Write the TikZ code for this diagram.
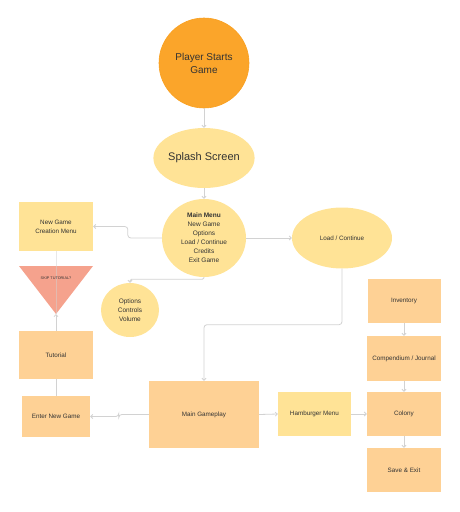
\documentclass[tikz,border=0pt]{standalone}
\usepackage{fontspec}
\setmainfont{Liberation Sans}
\usetikzlibrary{arrows.meta,shapes.geometric}
\definecolor{orangeC}{HTML}{FBA52A}
\definecolor{orangeB}{HTML}{F9A020}
\definecolor{yellowC}{HTML}{FFE396}
\definecolor{peachC}{HTML}{FED195}
\definecolor{salmonC}{HTML}{F5A28D}
\definecolor{lineC}{HTML}{D2D2D2}
\definecolor{textC}{HTML}{333333}
\begin{document}
\begin{tikzpicture}[x=1pt,y=-1pt,
  every node/.style={text=textC},
  box/.style={rectangle, fill=peachC, draw=none, inner sep=0pt, font=\fontsize{6.3}{8}\selectfont},
  ybox/.style={box, fill=yellowC},
  yell/.style={ellipse, fill=yellowC, draw=none, inner sep=0pt, align=center},
  conn/.style={draw=lineC, line width=0.8pt, rounded corners=3pt, -{Straight Barb[length=2pt,width=4pt]}},
  plain/.style={draw=lineC, line width=0.8pt}
]
\useasboundingbox (0,0) rectangle (460,512);

% nodes
\node[circle, fill=orangeC, draw=orangeB, line width=0.6pt, minimum size=90pt, inner sep=0pt, align=center, font=\fontsize{10}{13}\selectfont] (start) at (204,63) {Player Starts\\Game};
\node[yell, minimum width=100pt, minimum height=60pt, font=\fontsize{11}{13}\selectfont] (splash) at (204,158) {Splash Screen};
\node[yell, minimum width=84pt, minimum height=78pt, font=\fontsize{6.5}{9}\selectfont] (menu) at (204,238) {\textbf{Main Menu}\\New Game\\Options\\Load / Continue\\Credits\\Exit Game};
\node[yell, minimum width=100pt, minimum height=61pt, font=\fontsize{6.3}{8}\selectfont] (lc) at (342,238) {Load / Continue};
\node[yell, minimum width=58pt, minimum height=54pt, font=\fontsize{6.5}{9}\selectfont] (opt) at (130,310) {Options\\Controls\\Volume};

\node[ybox, minimum width=74pt, minimum height=49pt, align=center, font=\fontsize{6.3}{9}\selectfont] (ngc) at (56,226.5) {New Game\\Creation Menu};
\fill[salmonC] (19,266) coordinate (tril) -- (93,266) coordinate (trir) -- (56,314) coordinate (triapex) -- cycle;
\node[box, minimum width=74pt, minimum height=48pt] (tut) at (56,355) {Tutorial};
\node[box, minimum width=68pt, minimum height=41pt] (eng) at (56,416.5) {Enter New Game};
\node[box, minimum width=110pt, minimum height=67pt] (mg) at (204,414.5) {Main Gameplay};
\node[ybox, minimum width=73pt, minimum height=44pt] (ham) at (314.5,414) {Hamburger Menu};
\node[box, minimum width=73pt, minimum height=44pt] (inv) at (404,301) {Inventory};
\node[box, minimum width=74pt, minimum height=45pt] (comp) at (404,358.5) {Compendium / Journal};
\node[box, minimum width=74pt, minimum height=44pt] (col) at (404,414) {Colony};
\node[box, minimum width=74pt, minimum height=44pt] (save) at (404,470) {Save \& Exit};

% connectors
\draw[conn] (start.south) -- (splash.north);
\draw[conn] (splash.south) -- (menu.north);
\draw[conn] (menu.west) -- ++(-34,0) |- (ngc.east);
\draw[conn, rounded corners=1.5pt] (menu.south) -- ++(0,2) -| (opt.north);
\draw[conn] (menu.east) -- (lc.west);
\draw[conn] (lc.south) -- ++(0,56) -| (mg.north);
\draw[conn] (mg.west) -- ++(-30,0) |- (eng.east);
\draw[conn] (mg.east) -- (ham.west);
\draw[conn] (ham.east) -- (col.west);
\draw[conn] (inv.south) -- (comp.north);
\draw[conn] (comp.south) -- (col.north);
\draw[conn] (col.south) -- (save.north);
\draw[plain, opacity=0.5] (ngc.south) -- (triapex);
\draw[conn] (tut.north) -- (triapex);
\draw[plain] (tut.south) -- (eng.north);
\node[font=\fontsize{3.8}{4}\selectfont, inner sep=0pt] (skip) at (56,278) {SKIP TUTORIAL?};
\end{tikzpicture}
\end{document}
